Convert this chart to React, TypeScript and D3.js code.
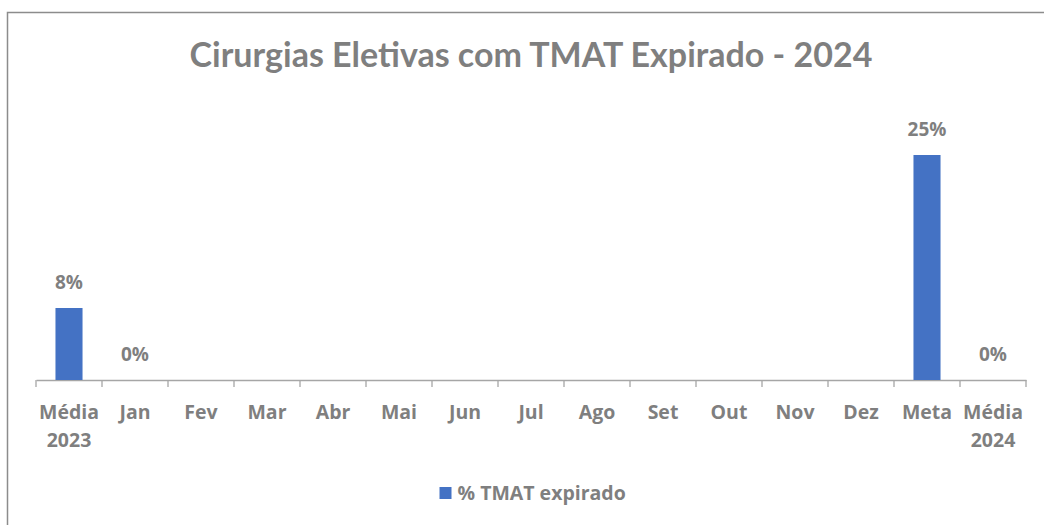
import React, { useRef, useEffect } from 'react';
import * as d3 from 'd3';

const categories = ["Média 2023", "Jan", "Fev", "Mar", "Abr", "Mai", "Jun", "Jul", "Ago", "Set", "Out", "Nov", "Dez", "Meta", "Média 2024"];
const tmatExpirado: (number | null)[] = [8, 0, null, null, null, null, null, null, null, null, null, null, null, 25, 0];
const seriesName = "% TMAT expirado";
const title = "Cirurgias Eletivas com TMAT Expirado - 2024";

const TITLE_FONT = "Lato, sans-serif";
const FONT = "'Open Sans', sans-serif";
const GREY = "#7f7f7f";
const BAR = "#4472c4";

export default function App() {
    const svgRef = useRef<SVGSVGElement>(null);

    useEffect(() => {
        if (!svgRef.current) return;
        const svg = d3.select(svgRef.current);
        svg.selectAll("*").remove();

        const width = 1044, height = 525;
        const baseY = 380;

        // Chart frame
        svg.append("rect")
            .attr("x", 7.5).attr("y", 12.5)
            .attr("width", width + 10).attr("height", height + 10)
            .attr("fill", "#fff")
            .attr("stroke", "#8c8c8c")
            .attr("stroke-width", 1.5);

        svg.append("text")
            .attr("x", 531)
            .attr("y", 67)
            .attr("text-anchor", "middle")
            .style("font-family", TITLE_FONT)
            .style("font-size", "34px")
            .style("font-weight", "bold")
            .style("fill", GREY)
            .text(title);

        const x = d3.scaleBand<string>()
            .domain(categories)
            .range([36, 1026])
            .padding(0);

        const y = d3.scaleLinear()
            .domain([0, 30])
            .range([baseY, 110]);

        const barW = x.bandwidth() * 0.41;

        // Axis
        const axis = svg.append("g")
            .attr("transform", `translate(0,${baseY})`)
            .call(d3.axisBottom(x).tickSize(0).tickFormat(() => ""));
        axis.select(".domain").attr("stroke", "#a6a6a6").attr("stroke-width", 1.3);

        const boundaries = categories.map(c => x(c)!).concat([x.range()[1]]);
        svg.append("g").selectAll("line")
            .data(boundaries)
            .enter()
            .append("line")
            .attr("x1", d => d).attr("x2", d => d)
            .attr("y1", baseY).attr("y2", baseY + 7)
            .attr("stroke", "#a6a6a6")
            .attr("stroke-width", 1.3);

        // Category labels (two-word labels on two lines)
        const labels = svg.append("g").selectAll("text")
            .data(categories)
            .enter()
            .append("text")
            .attr("x", d => x(d)! + x.bandwidth() / 2)
            .attr("y", 418.5)
            .attr("text-anchor", "middle")
            .style("font-family", FONT)
            .style("font-size", "19.5px")
            .style("font-weight", "bold")
            .style("fill", GREY);
        labels.each(function (d) {
            const t = d3.select(this);
            d.split(" ").forEach((p, i) => {
                t.append("tspan")
                    .attr("x", x(d)! + x.bandwidth() / 2)
                    .attr("dy", i === 0 ? 0 : 28)
                    .text(p);
            });
        });

        const bars = categories.map((c, i) => ({ c, v: tmatExpirado[i] })).filter(d => d.v !== null) as { c: string; v: number }[];

        svg.append("g").selectAll("rect")
            .data(bars)
            .enter()
            .append("rect")
            .attr("x", d => x(d.c)! + (x.bandwidth() - barW) / 2)
            .attr("y", d => y(d.v))
            .attr("width", barW)
            .attr("height", d => baseY - y(d.v))
            .attr("fill", BAR);

        svg.append("g").selectAll("text")
            .data(bars)
            .enter()
            .append("text")
            .attr("x", d => x(d.c)! + x.bandwidth() / 2)
            .attr("y", d => y(d.v) - 19.5)
            .attr("text-anchor", "middle")
            .style("font-family", FONT)
            .style("font-size", "19px")
            .style("font-weight", "bold")
            .style("fill", GREY)
            .text(d => `${d.v}%`);

        // Legend
        const legend = svg.append("g").attr("transform", "translate(439.5,487)");
        legend.append("rect")
            .attr("width", 12).attr("height", 12)
            .attr("fill", BAR);
        legend.append("text")
            .attr("x", 18).attr("y", 12.5)
            .style("font-family", FONT)
            .style("font-size", "19.5px")
            .style("font-weight", "bold")
            .style("fill", GREY)
            .text(seriesName);
    }, []);

    return (
        <div style={{ position: "absolute", left: 0, top: 0, width: 1044, height: 525, overflow: "hidden" }}>
            <svg ref={svgRef} width={1044} height={525} style={{ display: "block" }} />
        </div>
    );
}
